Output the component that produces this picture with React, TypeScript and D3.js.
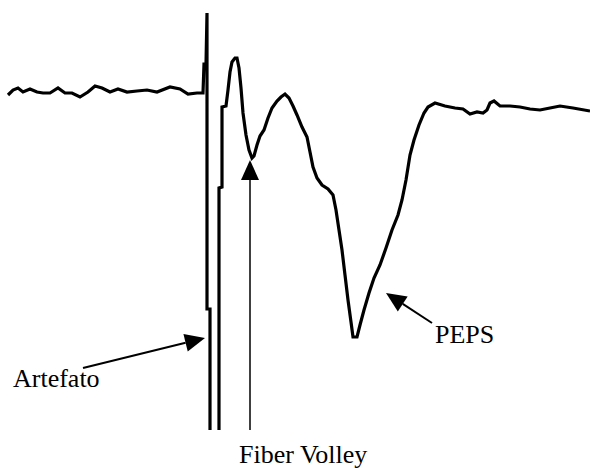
import { useEffect, useRef } from 'react'
import * as d3 from 'd3'

// field potential trace: time (ms) vs amplitude (mV)
const timeMs = [
  0, 0.25, 0.5, 0.75, 1.1, 1.45, 1.75, 2.1, 2.5, 2.85, 3.2, 3.6, 4.0, 4.35, 4.7, 5.1, 5.5, 5.95,
  6.45, 6.95, 7.45, 8.1, 8.6, 9.0, 9.45, 9.75,
  9.8, 9.9, 9.95, 9.95, 10.1, 10.1, 10.55, 10.55, 10.7, 10.7, 10.9,
  11.0, 11.1, 11.2, 11.35, 11.45, 11.55, 11.65, 11.75, 11.9, 12.05, 12.2, 12.3, 12.45, 12.6,
  12.8, 13.0, 13.2, 13.45, 13.65, 13.85, 14.05, 14.25, 14.45, 14.7, 14.95, 15.1, 15.25, 15.45,
  15.7, 16.0, 16.25, 16.4, 16.55, 16.7, 16.85, 17.0, 17.15, 17.25, 17.45, 17.6, 17.8, 18.05,
  18.3, 18.6, 18.9, 19.2, 19.5, 19.7, 19.9, 20.1, 20.3, 20.55, 20.8, 21.0, 21.35, 21.85, 22.35,
  22.75, 23.1, 23.45, 23.75, 23.95, 24.1, 24.3, 24.6, 25.1, 25.6, 26.1, 26.6, 27.1, 27.6, 28.25, 29.1
]
const amplitudeMv = [
  -0.03, 0.02, 0.04, 0, 0.03, 0, -0.01, -0.01, 0.04, -0.01, -0.01, -0.05, 0, 0.06, 0.04, 0, 0.03, 0,
  0.01, 0.02, 0, 0.05, 0.03, -0.02, -0.01, -0.01,
  0.28, 0.28, 0.79, -2.17, -2.17, -3.7, -3.7, -0.96, -0.95, -0.15, -0.14,
  0.02, 0.2, 0.3, 0.34, 0.34, 0.24, 0.04, -0.21, -0.43, -0.58, -0.66, -0.64, -0.53, -0.44,
  -0.38, -0.26, -0.16, -0.09, -0.05, -0.02, -0.06, -0.14, -0.23, -0.35, -0.45, -0.6, -0.75, -0.86,
  -0.93, -0.97, -1.03, -1.18, -1.38, -1.58, -1.83, -2.08, -2.3, -2.45, -2.45, -2.33, -2.18, -2.01,
  -1.86, -1.73, -1.56, -1.38, -1.23, -1.08, -0.88, -0.63, -0.48, -0.33, -0.21, -0.15, -0.11, -0.14, -0.16,
  -0.17, -0.22, -0.2, -0.21, -0.18, -0.11, -0.09, -0.14, -0.14, -0.15, -0.17, -0.18, -0.16, -0.14, -0.16, -0.19
]

// annotations: label, label anchor, arrow tail, arrow tip (all in ms / mV)
const annLabels = ['Artefato', 'Fiber Volley', 'PEPS']
const annLabelT = [0.25, 11.55, 21.35]
const annLabelV = [-2.95, -3.71, -2.51]
const annTailT = [3.75, 12.1, 21.2]
const annTailV = [-2.76, -3.38, -2.31]
const annTipT = [9.85, 12.1, 18.9]
const annTipV = [-2.46, -0.68, -2.01]
const annShaft = [2, 1.5, 2]

export default function App() {
  const svgRef = useRef<SVGSVGElement>(null)

  useEffect(() => {
    if (!svgRef.current) return
    const svg = d3.select(svgRef.current)
    svg.selectAll('*').remove()

    const width = 590
    const height = 468

    const x = d3.scaleLinear().domain([0, 29.1]).range([8, 590])
    const y = d3.scaleLinear().domain([0.8, -3.4]).range([12, 432])

    svg.append('rect').attr('width', width).attr('height', height).attr('fill', '#fff')

    svg.append('defs')
      .append('clipPath')
      .attr('id', 'plotClip')
      .append('rect')
      .attr('x', 0)
      .attr('y', 0)
      .attr('width', width)
      .attr('height', 430)

    const pts = timeMs.map((t, i) => [t, amplitudeMv[i]] as [number, number])
    const line = d3.line<[number, number]>().x(d => x(d[0])).y(d => y(d[1]))

    svg.append('path')
      .datum(pts)
      .attr('clip-path', 'url(#plotClip)')
      .attr('fill', 'none')
      .attr('stroke', '#000')
      .attr('stroke-width', 3.2)
      .attr('stroke-linejoin', 'miter')
      .attr('d', line)

    annLabels.forEach((label, i) => {
      const x0 = x(annTailT[i])
      const y0 = y(annTailV[i])
      const x1 = x(annTipT[i])
      const y1 = y(annTipV[i])
      const ang = Math.atan2(y1 - y0, x1 - x0)
      const headLen = 20
      const headW = 9
      const bx = x1 - headLen * Math.cos(ang)
      const by = y1 - headLen * Math.sin(ang)

      svg.append('line')
        .attr('x1', x0)
        .attr('y1', y0)
        .attr('x2', bx)
        .attr('y2', by)
        .attr('stroke', '#000')
        .attr('stroke-width', annShaft[i])

      svg.append('path')
        .attr('d', d3.line()([
          [x1, y1],
          [bx - headW * Math.sin(ang), by + headW * Math.cos(ang)],
          [bx + headW * Math.sin(ang), by - headW * Math.cos(ang)]
        ]) + 'Z')
        .attr('fill', '#000')

      svg.append('text')
        .attr('x', x(annLabelT[i]))
        .attr('y', y(annLabelV[i]))
        .attr('font-family', '"Liberation Serif", "Times New Roman", serif')
        .attr('font-size', 26)
        .attr('fill', '#000')
        .text(label)
    })
  }, [])

  return (
    <svg
      ref={svgRef}
      width={590}
      height={468}
      style={{ position: 'absolute', left: 0, top: 0 }}
    />
  )
}
